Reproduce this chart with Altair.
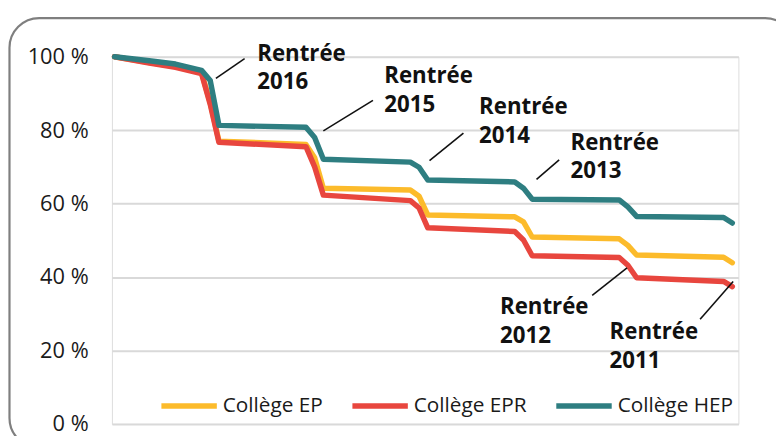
import altair as alt
import pandas as pd

# ---- data ----
months = [0, 4, 7, 10, 11, 12, 22, 23, 24, 34, 35, 36, 46, 47, 48, 58, 59, 60, 70, 71]
college_ep = [100, 98.4, 97.3, 95.6, 87.5, 77.0, 76.1, 72.5, 64.2, 63.7, 62.0, 56.9,
              56.4, 55.0, 50.9, 50.4, 48.6, 46.0, 45.4, 43.9]
college_epr = [100, 98.3, 97.1, 95.4, 87.0, 76.7, 75.5, 70.0, 62.3, 60.8, 58.8, 53.4,
               52.4, 50.1, 45.8, 45.3, 43.2, 39.8, 38.8, 37.4]
college_hep = [100, 98.9, 98.0, 96.3, 93.5, 81.3, 80.8, 78.0, 72.1, 71.3, 69.9, 66.4,
               65.9, 64.2, 61.2, 61.0, 59.1, 56.5, 56.2, 54.7]

series_names = ["Collège EP", "Collège EPR", "Collège HEP"]
series_colors = ["#FCBB2B", "#E8463E", "#2E7E81"]

y_ticks = [0, 20, 40, 60, 80, 100]

ann_labels = ["Rentrée\n2016", "Rentrée\n2015", "Rentrée\n2014",
              "Rentrée\n2013", "Rentrée\n2012", "Rentrée\n2011"]
ann_text_x = [16.4, 31.0, 41.9, 52.4, 44.3, 56.9]
ann_text_y = [98.9, 92.8, 84.3, 74.7, 29.9, 23.1]
ann_line_x1 = [11.65, 24.0, 36.2, 48.5, 58.9, 71.1]
ann_line_y1 = [94.1, 79.8, 71.7, 66.6, 42.5, 38.8]
ann_line_x2 = [14.95, 29.7, 40.1, 51.1, 54.9, 67.3]
ann_line_y2 = [99.5, 88.1, 79.2, 71.9, 35.0, 28.5]

# ---- tables ----
rows = []
for name, vals in zip(series_names, [college_ep, college_epr, college_hep]):
    for m, v in zip(months, vals):
        rows.append({"mois": m, "part": v, "serie": name})
df = pd.DataFrame(rows)

ann = pd.DataFrame({
    "label": ann_labels, "tx": ann_text_x, "ty": ann_text_y,
    "x1": ann_line_x1, "y1": ann_line_y1, "x2": ann_line_x2, "y2": ann_line_y2,
})

FONT = "Open Sans"
xscale = alt.Scale(domain=[-0.3, 71.7], nice=False, zero=False)
yscale = alt.Scale(domain=[0, 100], nice=False)

border = alt.Chart(pd.DataFrame({"k": [0]})).mark_rect(
    fill="transparent", stroke="#7f7f7f", strokeWidth=2.2, cornerRadius=30
).encode(
    x=alt.value(-103.5), x2=alt.value(690), y=alt.value(-39), y2=alt.value(395)
)

lines = alt.Chart(df).mark_line(strokeWidth=5.5, strokeCap="round", strokeJoin="round").encode(
    x=alt.X("mois:Q", scale=xscale, axis=None),
    y=alt.Y("part:Q", scale=yscale,
            axis=alt.Axis(values=y_ticks, title=None, domain=False, ticks=False,
                          labelExpr="datum.value + ' %'", labelPadding=24,
                          labelFontSize=22, labelFont=FONT, labelColor="#1a1a1a",
                          grid=True, gridColor="#d9d9d9", gridWidth=2)),
    color=alt.Color("serie:N",
                    scale=alt.Scale(domain=series_names, range=series_colors),
                    legend=alt.Legend(orient="none", legendX=47, legendY=322,
                                      direction="horizontal", title=None,
                                      symbolType="stroke", symbolSize=3136,
                                      symbolStrokeWidth=5.5, labelFontSize=21,
                                      labelFont=FONT, labelColor="#1a1a1a",
                                      labelOffset=3, columnPadding=18, padding=0,
                                      gridAlign="none")),
    order=alt.Order("mois:Q"),
)

leaders = alt.Chart(ann).mark_rule(color="#111111", strokeWidth=1.6).encode(
    x=alt.X("x1:Q", scale=xscale), y=alt.Y("y1:Q", scale=yscale),
    x2="x2:Q", y2="y2:Q",
)

texts = alt.Chart(ann).mark_text(
    align="left", baseline="alphabetic", font=FONT, fontSize=22.5, fontWeight="bold",
    color="#111111", lineBreak="\n", lineHeight=29,
).encode(
    x=alt.X("tx:Q", scale=xscale), y=alt.Y("ty:Q", scale=yscale), text="label:N"
)

chart = alt.layer(border, lines, leaders, texts).properties(
    width=633, height=371,
    padding={"left": 105, "top": 47, "right": 38, "bottom": 10},
    autosize=alt.AutoSizeParams(type="none"),
).configure_view(stroke=None).configure(font=FONT)

chart.save("out.html", embed_options={"renderer": "svg", "actions": False})
